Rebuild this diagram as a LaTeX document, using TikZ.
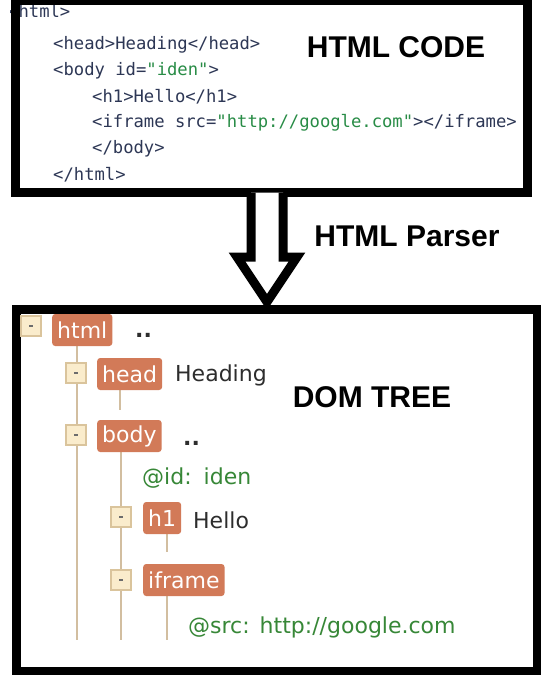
\documentclass[tikz,border=0pt]{standalone}
\usepackage{fontspec}
\setmonofont{DejaVu Sans Mono}
\newfontfamily\treefont{DejaVu Sans}
\newfontfamily\titlefont{Liberation Sans}
\usetikzlibrary{calc}
\definecolor{tagfill}{RGB}{210,122,88}
\definecolor{linecol}{RGB}{210,190,160}
\definecolor{expfill}{RGB}{250,236,204}
\definecolor{expborder}{RGB}{218,196,156}
\definecolor{greentext}{RGB}{55,135,55}
\definecolor{codeblue}{RGB}{45,55,85}
\definecolor{codegreen}{RGB}{40,140,70}
\definecolor{darktext}{RGB}{45,45,45}
\pgfdeclarelayer{back}
\pgfdeclarelayer{bg}
\pgfsetlayers{back,bg,main}
\tikzset{
  titletext/.style={font=\titlefont\bfseries\fontsize{30}{36}\selectfont, inner sep=0pt, text=black},
  codeline/.style={font=\ttfamily\fontsize{17.2}{20}\selectfont, anchor=west, inner sep=0pt, text=codeblue},
  tagbox/.style={fill=tagfill, text=white, rounded corners=3pt, font=\treefont\fontsize{22}{26}\selectfont, minimum height=32pt, inner xsep=5pt, inner ysep=0pt, anchor=west},
  expander/.style={draw=expborder, fill=expfill, minimum size=20pt, inner sep=0pt, line width=1.5pt},
  treeline/.style={draw=linecol, line width=1.4pt},
  plaintext/.style={font=\treefont\fontsize{22}{26}\selectfont, text=darktext, inner sep=0pt, anchor=west},
  attrtext/.style={font=\treefont\fontsize{22}{26}\selectfont, text=greentext, inner sep=0pt, anchor=west},
  dotstext/.style={font=\treefont\bfseries\fontsize{22}{26}\selectfont, text=darktext, inner sep=0pt, anchor=west},
  framebox/.style={draw=black, line width=9pt, inner sep=0pt},
  blockarrow/.style={draw=black, line width=9pt, line join=miter, fill=white}
}
\newcommand{\expmark}{\textcolor{darktext!70}{\rule{4pt}{1.6pt}}}
\begin{document}
\begin{tikzpicture}[x=1pt,y=-1pt]
\useasboundingbox (0,0) rectangle (541,675);
\clip (0,0) rectangle (541,675);
\begin{pgfonlayer}{back}
\fill[white] (0,0) rectangle (541,675);
\end{pgfonlayer}

% ---------- code box ----------
\begin{scope}
\clip (10.5,0) rectangle (531.5,197);
\node[codeline] (c1) at (8,11) {<html>};
\end{scope}
\node[codeline] (c2) at (53,45) {<head>Heading</head>};
\node[codeline] (c3) at (53,71) {<body id=\textcolor{codegreen}{"iden"}>};
\node[codeline] (c4) at (92,97) {<h1>Hello</h1>};
\node[codeline] (c5) at (92,123) {<iframe src=\textcolor{codegreen}{"http://google.com"}></iframe>};
\node[codeline] (c6) at (92,149) {</body>};
\node[codeline] (c7) at (53,175) {</html>};
\node[titletext] (codetitle) at (396,47) {HTML CODE};
\node[framebox, minimum width=512pt, minimum height=192.5pt] (codebox) at (271,96.25) {};

% ---------- arrow ----------
\coordinate (atop) at (267,192.5);
\coordinate (atip) at (267,302);
\draw[blockarrow] (atop) ++(-16,0) -- ++(0,64.5) -- ++(-14,0) -- (atip) -- ++(30,-45) -- ++(-14,0) -- ++(0,-64.5);
\node[titletext] (parser) at (407,236) {HTML Parser};

% ---------- DOM tree box ----------
\node[framebox, minimum width=520.5pt, minimum height=361.5pt] (dombox) at (276.75,490.25) {};
\node[titletext] (domtitle) at (372,397) {DOM TREE};

% tags
\node[tagbox] (html) at (52,330) {html};
\node[expander] (exphtml) at (31,326) {\expmark};
\node[dotstext] (dots1) at (135,335) {..};

\node[expander] (exphead) at (76,373) {\expmark};
\node[tagbox] (head) at (97,374) {head};
\node[plaintext] (heading) at (175,375) {Heading};

\node[expander] (expbody) at (76,435) {\expmark};
\node[tagbox] (body) at (97,436) {body};
\node[dotstext] (dots2) at (183,443) {..};

\node[attrtext] (idattr) at (142,478) {@id:\hspace{12pt}iden};

\node[expander] (exph1) at (121,517) {\expmark};
\node[tagbox] (h1) at (143,518) {h1};
\node[plaintext] (hello) at (193,520) {Hello};

\node[expander] (expiframe) at (121,580) {\expmark};
\node[tagbox] (iframe) at (143,580) {iframe};

\node[attrtext] (srcattr) at (188,627) {@src:\hspace{10pt}http://google.com};

% tree lines
\coordinate (endhtml) at (77,640);
\coordinate (endhead) at (120,410);
\coordinate (endbody) at (121,640);
\coordinate (endh1) at (167,552);
\coordinate (endiframe) at (167,640);
\begin{pgfonlayer}{bg}
\draw[treeline] (html.south -| endhtml) -- (endhtml);
\draw[treeline] (head.south -| endhead) -- (endhead);
\draw[treeline] (body.south -| endbody) -- (endbody);
\draw[treeline] (h1.south -| endh1) -- (endh1);
\draw[treeline] (iframe.south -| endiframe) -- (endiframe);
\end{pgfonlayer}
\end{tikzpicture}
\end{document}
